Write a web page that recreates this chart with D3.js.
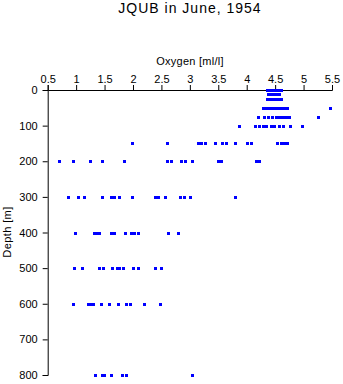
<!DOCTYPE html>
<html><head><meta charset="utf-8">
<script src="https://cdn.jsdelivr.net/npm/d3@7"></script>
<style>body{margin:0;background:#fff}svg{display:block}text{font-family:"Liberation Sans",Arial,sans-serif;fill:#000}</style>
</head><body>
<script>
const title = "JQUB in June, 1954";
const xLabel = "Oxygen [ml/l]";
const yLabel = "Depth [m]";
const xTicks = [0.5,1,1.5,2,2.5,3,3.5,4,4.5,5,5.5];
const yTicks = [0,100,200,300,400,500,600,700,800];
const depths = [0,10,25,50,75,100,150,200,300,400,500,600,800];
const oxygen = [
  [4.35,4.4,4.45,4.5,4.55,4.6],
  [4.37,4.42,4.47,4.52,4.57],
  [4.35,4.4,4.45,4.5,4.55,4.6],
  [4.29,4.34,4.39,4.44,4.49,4.54,4.59,4.64,4.69,4.71,5.46],
  [4.2,4.3,4.38,4.44,4.52,4.57,4.61,4.65,4.7,4.75,5.25],
  [3.86,4.15,4.22,4.28,4.34,4.42,4.48,4.56,4.64,4.76,4.97],
  [1.99,2.60,3.15,3.2,3.26,3.44,3.57,3.63,3.79,4.0,4.07,4.53,4.6,4.66,4.71],
  [0.70,0.94,1.24,1.45,1.85,2.60,2.67,2.85,2.92,3.04,3.49,3.55,4.16,4.22],
  [0.86,1.03,1.14,1.46,1.61,1.67,1.76,1.98,2.39,2.44,2.56,2.83,2.90,3.01,3.80],
  [0.98,1.32,1.37,1.41,1.61,1.67,1.86,1.96,2.02,2.08,2.61,2.80],
  [0.97,1.10,1.40,1.47,1.63,1.71,1.76,1.82,2.0,2.09,2.39,2.50],
  [0.94,1.20,1.25,1.30,1.44,1.57,1.74,1.87,1.94,2.20,2.47],
  [1.33,1.45,1.49,1.61,1.80,1.87,3.04]
];

const W=343,H=384;
const svg=d3.select("body").append("svg").attr("width",W).attr("height",H);
const x=d3.scaleLinear().domain([0.5,5.5]).range([47.7,332]);
const y=d3.scaleLinear().domain([0,800]).range([90,375]);

svg.append("text").attr("x",190).attr("y",13).attr("text-anchor","middle")
  .style("font-size","14px").style("letter-spacing","1px").text(title);
svg.append("text").attr("x",190).attr("y",65).attr("text-anchor","middle")
  .style("font-size","11px").style("letter-spacing","0.25px").text(xLabel);
svg.append("text").attr("transform","translate(11,232) rotate(-90)").attr("text-anchor","middle")
  .style("font-size","11px").style("letter-spacing","0.4px").text(yLabel);

const xa=svg.append("g").attr("transform","translate(0,90)")
  .call(d3.axisTop(x).tickValues(xTicks).tickFormat(d3.format("")).tickSize(5).tickPadding(2));
const ya=svg.append("g").attr("transform","translate(47.7,0)")
  .call(d3.axisLeft(y).tickValues(yTicks).tickSize(5).tickPadding(5));
[xa,ya].forEach(a=>{
  a.selectAll("path").attr("stroke","#000").attr("stroke-width",1);
  a.selectAll("line").attr("stroke","#000");
  a.selectAll("text").style("font-size","11px").style("font-family","Liberation Sans, Arial, sans-serif");
});

const pts=[];
depths.forEach((d,i)=>oxygen[i].forEach(v=>pts.push({d,v})));
svg.append("g").selectAll("rect").data(pts).join("rect")
  .attr("x",p=>Math.round(x(p.v))-1).attr("y",p=>Math.round(y(p.d))-1)
  .attr("width",3).attr("height",3).attr("fill","#0000ff");
</script>
</body></html>
